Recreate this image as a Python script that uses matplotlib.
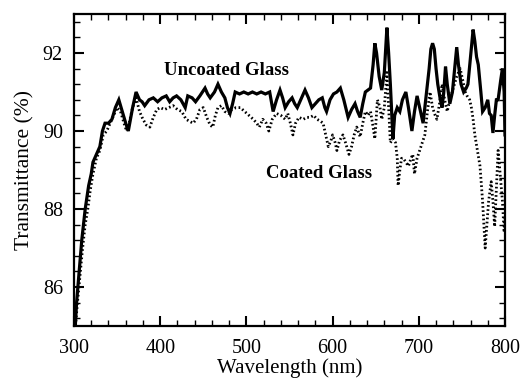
import matplotlib
matplotlib.use("Agg")
import matplotlib.pyplot as plt
from matplotlib.ticker import MultipleLocator

plt.rcParams['font.family'] = ['Liberation Serif', 'DejaVu Serif']

# Uncoated glass (solid)
wl_uncoated = [301, 303, 306, 309, 313, 317, 320, 322, 326, 330, 333, 336, 340, 344, 348, 352, 356, 360, 363,
               368, 372, 376, 379, 382, 387, 392, 397, 402, 407, 411, 415, 419, 424, 429, 432, 437, 441, 446,
               452, 455, 458, 463, 467, 471, 475, 478, 481, 484, 487, 492, 497, 502, 507, 512, 517, 522, 527,
               531, 535, 539, 542, 545, 549, 553, 556, 559, 563, 568, 572, 576, 580, 584, 588, 591, 593, 597,
               601, 605, 609, 613, 618, 622, 626, 629, 632, 635, 638, 641, 644, 647, 649, 651, 654, 657, 660,
               663, 665, 667, 670, 672, 675, 678, 681, 685, 688, 692, 695, 698, 701, 705, 708, 712, 714, 716,
               718, 720, 722, 725, 727, 729, 731, 733, 736, 739, 742, 744, 746, 749, 752, 755, 757, 760, 763,
               765, 767, 769, 772, 774, 777, 780, 782, 784, 786, 788, 790, 792, 795, 797, 799, 800]
t_uncoated = [84.8, 85.6, 86.4, 87.2, 88.0, 88.6, 88.9, 89.2, 89.4, 89.6, 90.0, 90.2, 90.2, 90.3, 90.6, 90.8, 90.5,
              90.2, 90.0, 90.6, 91.0, 90.8, 90.75, 90.65, 90.8, 90.85, 90.75, 90.85, 90.9, 90.75, 90.85, 90.9,
              90.8, 90.6, 90.9, 90.85, 90.75, 90.9, 91.1, 90.95, 90.85, 91.0, 91.2, 91.0, 90.85, 90.6, 90.45,
              90.7, 91.0, 90.95, 91.0, 90.95, 91.0, 90.95, 91.0, 90.95, 91.0, 90.5, 90.8, 91.05, 90.85, 90.6,
              90.75, 90.85, 90.7, 90.6, 90.8, 91.05, 90.85, 90.6, 90.7, 90.8, 90.85, 90.6, 90.5, 90.8, 90.95,
              91.0, 91.1, 90.8, 90.35, 90.55, 90.7, 90.5, 90.35, 90.7, 91.0, 91.05, 91.1, 91.7, 92.25, 92.0,
              91.4, 91.05, 91.5, 92.65, 92.0, 91.2, 89.8, 90.4, 90.6, 90.5, 90.8, 91.0, 90.6, 90.0, 90.5, 90.9,
              90.6, 90.2, 90.8, 91.6, 92.1, 92.25, 92.1, 91.6, 91.2, 90.8, 90.6, 91.0, 91.65, 91.2, 90.7, 91.0,
              91.7, 92.15, 91.7, 91.2, 91.0, 91.1, 91.2, 91.9, 92.6, 92.3, 91.9, 91.7, 91.0, 90.5, 90.6, 90.8,
              90.45, 90.4, 89.95, 90.4, 90.8, 90.8, 91.3, 91.6, 91.0, 89.9]

# Coated glass (dotted)
wl_coated = [301, 304, 307, 310, 313, 316, 319, 322, 326, 330, 334, 338, 342, 346, 350, 354, 358, 361, 364, 368,
             372, 376, 380, 384, 388, 392, 396, 400, 405, 410, 415, 420, 425, 430, 434, 438, 442, 446, 450, 454,
             458, 461, 464, 467, 471, 475, 479, 483, 488, 493, 498, 503, 508, 512, 515, 519, 523, 526, 530, 535,
             540, 545, 548, 551, 554, 557, 561, 566, 570, 574, 578, 582, 586, 589, 592, 595, 598, 600, 603, 605,
             608, 612, 615, 619, 622, 625, 628, 632, 635, 638, 641, 644, 647, 649, 652, 655, 657, 660, 663, 665,
             667, 670, 673, 675, 676, 678, 680, 682, 685, 688, 691, 693, 695, 698, 701, 704, 707, 710, 713, 716,
             719, 721, 724, 727, 730, 733, 736, 740, 744, 748, 750, 752, 754, 756, 759, 761, 763, 765, 768, 771,
             774, 777, 779, 781, 784, 786, 788, 790, 792, 794, 797, 799, 800]
t_coated = [84.8, 85.6, 86.3, 87.0, 87.6, 88.0, 88.5, 88.9, 89.3, 89.5, 89.9, 90.0, 90.2, 90.4, 90.6, 90.5, 90.2,
            90.0, 90.2, 90.6, 90.85, 90.5, 90.3, 90.15, 90.1, 90.35, 90.55, 90.6, 90.55, 90.6, 90.65, 90.55, 90.5,
            90.3, 90.25, 90.2, 90.3, 90.55, 90.6, 90.35, 90.15, 90.1, 90.4, 90.6, 90.65, 90.5, 90.45, 90.55, 90.6,
            90.6, 90.5, 90.4, 90.3, 90.2, 90.1, 90.3, 90.2, 90.0, 90.3, 90.45, 90.4, 90.3, 90.45, 90.2, 89.9, 90.2,
            90.35, 90.3, 90.35, 90.35, 90.4, 90.3, 90.25, 90.2, 89.9, 89.6, 89.75, 89.9, 89.7, 89.5, 89.75, 89.9,
            89.7, 89.4, 89.6, 89.9, 90.1, 89.85, 90.2, 90.5, 90.4, 90.5, 90.1, 89.8, 90.8, 90.6, 90.3, 90.6, 91.5,
            90.6, 89.7, 89.8, 89.7, 89.3, 88.6, 89.0, 89.3, 89.3, 89.2, 89.1, 89.3, 89.4, 88.9, 89.3, 89.5, 89.7,
            89.9, 90.5, 91.0, 90.6, 90.4, 90.3, 90.7, 91.2, 90.8, 90.5, 90.8, 91.1, 91.4, 91.6, 91.4, 91.2, 91.0,
            90.9, 90.8, 90.6, 90.3, 89.9, 89.5, 89.1, 88.2, 87.0, 87.6, 88.2, 88.7, 88.2, 87.55, 88.5, 89.5, 89.0,
            88.2, 87.4, 87.8]

x_ticks = [300, 400, 500, 600, 700, 800]
y_ticks = [86, 88, 90, 92]

fig = plt.figure(figsize=(5.22, 3.79), dpi=100)
ax = fig.add_axes([74/522, 1-326/379, (505-74)/522, (326-14)/379])

ax.plot(wl_uncoated, t_uncoated, color='black', lw=2.3, solid_joinstyle='miter')
ax.plot(wl_coated, t_coated, color='black', lw=2.0, linestyle=(0, (0.6, 0.9)))

ax.set_xlim(300, 800)
ax.set_ylim(85, 93)
ax.set_xticks(x_ticks)
ax.set_yticks(y_ticks)
ax.xaxis.set_minor_locator(MultipleLocator(20))
ax.yaxis.set_minor_locator(MultipleLocator(0.4))
ax.tick_params(which='both', direction='in', top=True, right=True, labelsize=14.5, colors='black')
ax.tick_params(which='major', length=7, width=1.5)
ax.tick_params(which='minor', length=4, width=1.0)
ax.tick_params(axis='x', which='major', pad=9.5)
ax.tick_params(axis='y', which='major', pad=8)
for s in ax.spines.values():
    s.set_linewidth(1.6)

ax.set_xlabel('Wavelength (nm)', fontsize=15, labelpad=0)
ax.set_ylabel('Transmittance (%)', fontsize=15.5, labelpad=6)

ax.text(404, 91.54, 'Uncoated Glass', fontsize=13.5, fontweight='bold', va='center', ha='left')
ax.text(523, 88.92, 'Coated Glass', fontsize=13.5, fontweight='bold', va='center', ha='left')

fig.savefig('out.png', dpi=100)
